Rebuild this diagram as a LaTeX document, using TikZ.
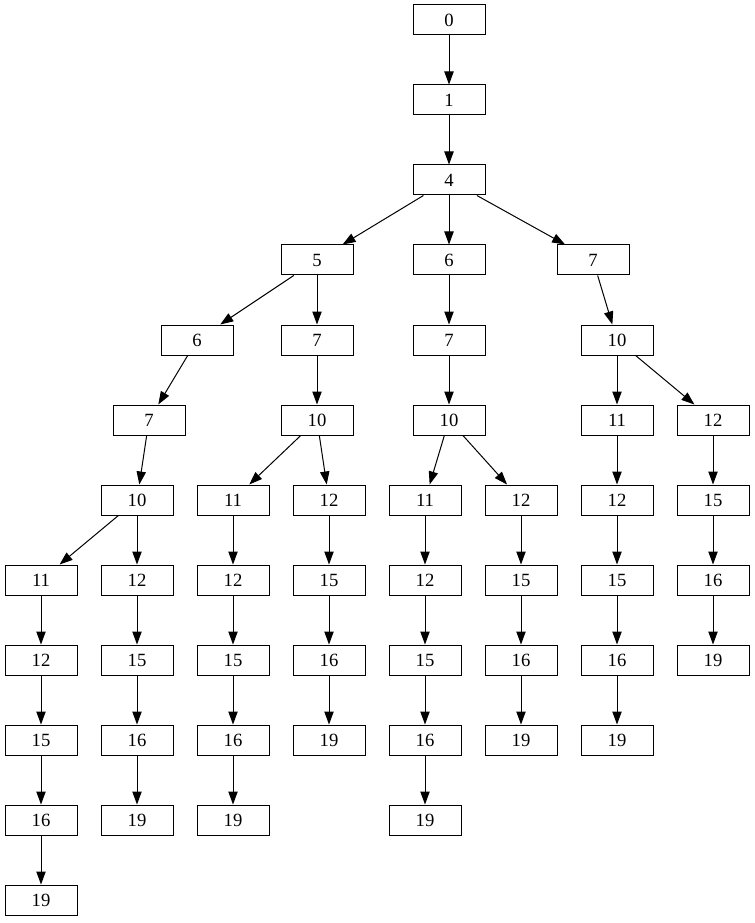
\documentclass[tikz,border=0pt]{standalone}
\usepackage{fontspec}
\setmainfont{Liberation Serif}
\usetikzlibrary{arrows.meta}

\tikzset{
    vtx/.style={draw,rectangle,line width=0.75pt,minimum width=54pt,
        minimum height=22.5pt,inner sep=0pt,font=\fontsize{14}{16}\selectfont},
    edge/.style={line width=0.75pt,-{Triangle[length=9.75pt,width=7pt]}}
}

\begin{document}
\begin{tikzpicture}[x=0.75pt,y=-0.75pt]
    \useasboundingbox (0,0) rectangle (755,923);
    % top of the tree
    \foreach \n/\x/\y/\t in {r0/449/20/0, r1/449/100/1, r4/449/180/4,
        r5/317/260/5, c6/449/260/6, d7/593/260/7,
        a6/197/340/6, b7/317/340/7, c7/449/340/7, d10/617/340/10,
        a7/149/420/7, b10/317/420/10, c10/449/420/10,
        a10/137/500/10} \node[vtx] (\n) at (\x,\y) {\t};
    % chains
    \foreach \n/\x/\y/\t in {k11/41/580/11, k12/41/660/12, k15/41/740/15,
        k16/41/820/16, k19/41/900/19,
        l12/137/580/12, l15/137/660/15, l16/137/740/16, l19/137/820/19,
        m11/233/500/11, m12/233/580/12, m15/233/660/15, m16/233/740/16,
        m19/233/820/19,
        n12/329/500/12, n15/329/580/15, n16/329/660/16, n19/329/740/19,
        o11/425/500/11, o12/425/580/12, o15/425/660/15, o16/425/740/16,
        o19/425/820/19,
        p12/521/500/12, p15/521/580/15, p16/521/660/16, p19/521/740/19,
        q11/617/420/11, q12/617/500/12, q15/617/580/15, q16/617/660/16,
        q19/617/740/19,
        s12/713/420/12, s15/713/500/15, s16/713/580/16, s19/713/660/19}
        \node[vtx] (\n) at (\x,\y) {\t};
    \foreach \a/\b in {r0/r1, r1/r4, r4/r5, r4/c6, r4/d7,
        r5/a6, r5/b7, a6/a7, a7/a10, a10/k11, a10/l12,
        b7/b10, b10/m11, b10/n12, c6/c7, c7/c10, c10/o11, c10/p12,
        d7/d10, d10/q11, d10/s12}
        \draw[edge] (\a) -- (\b);
    \foreach \c/\list in {k/{11,12,15,16,19}, l/{12,15,16,19},
        m/{11,12,15,16,19}, n/{12,15,16,19}, o/{11,12,15,16,19},
        p/{12,15,16,19}, q/{11,12,15,16,19}, s/{12,15,16,19}} {
        \foreach \i [remember=\i as \prev (initially -1)] in \list {
            \ifnum\prev>0
                \draw[edge] (\c\prev) -- (\c\i);
            \fi
        }
    }
\end{tikzpicture}
\end{document}
